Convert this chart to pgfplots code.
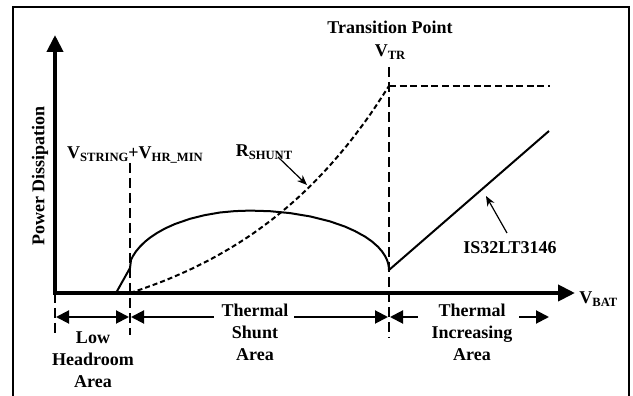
\documentclass[border=0pt]{standalone}
\usepackage{fontspec}
\setmainfont{Liberation Serif}
\usepackage{pgfplots}
\pgfplotsset{compat=1.18}
\usetikzlibrary{arrows.meta}
\newcommand{\sub}[1]{\raisebox{-1.6pt}{\fontsize{6.3}{7}\selectfont #1}}
\tikzset{lbl/.style={font=\fontsize{9}{11}\selectfont\bfseries, inner sep=0pt, align=center}}
\begin{document}
\begin{tikzpicture}
\begin{axis}[
  scale only axis, width=316.5pt, height=198pt,
  xmin=0, xmax=633, ymin=-103, ymax=293,
  hide axis, clip=false,
]
% frame
\draw[line width=1pt] (axis cs:13,-110) -- (axis cs:13,286) -- (axis cs:629,286) -- (axis cs:629,-110);

% R_SHUNT curve
\addplot[line width=1pt, black, no marks, smooth, dash pattern=on 2.5pt off 1.5pt] coordinates {
(130,0)(140,3.3)(150,6.9)(160,10.6)(170,14.6)(190,23.4)(210,33.4)(230,44.7)(250,57.4)(270,71.9)(290,88.2)(310,106.7)(330,127.7)(350,151.4)(370,178.3)(389,207)};
% horizontal dashed
\addplot[line width=1.2pt, black, no marks, dash pattern=on 3.5pt off 1.8pt] coordinates {(389,207)(550,207)};

% IS32LT3146 curve
\addplot[line width=1pt, black, no marks, line join=round] coordinates {
(116,0)(130,25)(131,33)(133,37)(136,41.6)(140,46.4)(145,51.3)(150,55.3)(157,60)(165,64.5)(175,69)(190,74.2)(205,77.9)(220,80.5)(235,81.9)(250,82.4)
(270,81.8)(290,79.9)(310,76.6)(330,71.6)(345,66.4)(355,61.9)(365,56.4)(372,51.5)(378,46.2)(382,41.6)(385,37.1)(387,33)(388,30.1)(388.7,26.9)(389,23)
(549,162)};

% vertical dashed lines
\draw[line width=1.2pt, dash pattern=on 5pt off 2.5pt] (axis cs:55,0) -- (axis cs:55,-42);
\draw[line width=1.2pt, dash pattern=on 5pt off 2.5pt] (axis cs:130,130) -- (axis cs:130,-42);
\draw[line width=1.2pt, dash pattern=on 5pt off 2.5pt] (axis cs:389,226) -- (axis cs:389,-45);

% axes
\draw[line width=2pt, {Triangle[length=8.5pt,width=8pt]}-{Triangle[length=8.5pt,width=8pt]}]
  (axis cs:55,258) -- (axis cs:55,0) -- (axis cs:575,0);

% region arrows
\draw[line width=1pt, {Triangle[length=6.5pt,width=6.5pt]}-{Triangle[length=6.5pt,width=6.5pt]}] (axis cs:56,-24) -- (axis cs:129,-24);
\draw[line width=1pt, {Triangle[length=6.5pt,width=6.5pt]}-] (axis cs:131,-24) -- (axis cs:214,-24);
\draw[line width=1pt, -{Triangle[length=6.5pt,width=6.5pt]}] (axis cs:294,-24) -- (axis cs:388,-24);
\draw[line width=1pt, {Triangle[length=6.5pt,width=6.5pt]}-] (axis cs:390,-24) -- (axis cs:418,-24);
\draw[line width=1pt, -{Triangle[length=6.5pt,width=6.5pt]}] (axis cs:519,-24) -- (axis cs:549,-24);

% pointer arrows
\draw[line width=0.6pt, -{Stealth[length=5pt,width=4pt]}] (axis cs:278,136) -- (axis cs:307,108);
\draw[line width=0.6pt, -{Stealth[length=5pt,width=4pt]}] (axis cs:507,60) -- (axis cs:486,97);

% labels
\node[lbl] at (axis cs:390,266) {Transition Point};
\node[lbl] at (axis cs:390,241) {V\sub{TR}};
\node[lbl] at (axis cs:135,138) {V\sub{STRING}+V\sub{HR\_MIN}};
\node[lbl] at (axis cs:264,141) {R\sub{SHUNT}};
\node[lbl] at (axis cs:510,45) {IS32LT3146};
\node[lbl, anchor=west] at (axis cs:579,-6) {V\sub{BAT}};
\node[lbl, rotate=90] at (axis cs:40,117) {Power Dissipation};
\node[lbl, anchor=north] at (axis cs:93,-38) {Low\\Headroom\\Area};
\node[lbl, anchor=north] at (axis cs:255,-11) {Thermal\\Shunt\\Area};
\node[lbl, anchor=north] at (axis cs:472,-11) {Thermal\\Increasing\\Area};
\end{axis}
\pgfresetboundingbox
\path[use as bounding box] (0,0) rectangle (316.5pt,198pt);
\end{tikzpicture}
\end{document}
